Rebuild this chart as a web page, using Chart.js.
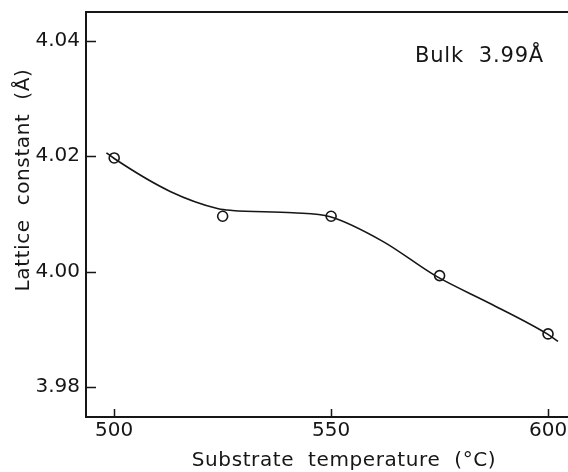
<!DOCTYPE html>
<html>
<head>
<meta charset="utf-8">
<script src="https://cdn.jsdelivr.net/npm/chart.js@4/dist/chart.umd.min.js"></script>
<style>
  html, body { margin: 0; padding: 0; background: #fff; }
  #wrap { width: 568px; height: 472px; }
</style>
</head>
<body>
<div id="wrap"><canvas id="chart" width="568" height="472"></canvas></div>
<script>
'use strict';

/* ── DATA ─────────────────────────── */
const temps   = [500, 525, 550, 575, 600];                 // substrate temperature (°C)
const lattice = [4.0197, 4.0096, 4.0096, 3.9993, 3.9892];  // lattice constant (Å)

// hand-drawn guide curve
const curveT = [498.2, 500, 512.9, 524, 527.2, 541.2, 549.8, 562, 574, 587.1, 599.8, 602.3];
const curveA = [4.0206, 4.0196, 4.0139, 4.0109, 4.0106, 4.0102, 4.0095, 4.0052, 3.9993, 3.9943, 3.9892, 3.9879];

const xTicks = [500, 550, 600];
const yTicks = [3.98, 4.00, 4.02, 4.04];

const xTitle = 'Substrate  temperature  (°C)';
const yTitle = 'Lattice  constant  (Å)';
const note   = 'Bulk  3.99Å';

/* ── STYLE ─────────────────────────── */
const ink  = '#161616';
const font = 'DejaVu Sans';

// frame top edge, inward tick marks, axis titles, bulk note
const extras = {
  id: 'extras',
  afterDraw(chart) {
    const { ctx, chartArea: a, scales: { x, y } } = chart;
    ctx.save();
    ctx.strokeStyle = ink;
    ctx.lineWidth = 2;
    ctx.beginPath();
    ctx.moveTo(a.left, a.top);
    ctx.lineTo(a.right, a.top);
    ctx.stroke();

    // inward ticks
    ctx.lineWidth = 1.5;
    ctx.beginPath();
    x.ticks.forEach(t => {
      const px = Math.round(x.getPixelForValue(t.value)) + 0.5;
      ctx.moveTo(px, a.bottom);
      ctx.lineTo(px, a.bottom - 8);
    });
    y.ticks.forEach(t => {
      const py = Math.round(y.getPixelForValue(t.value)) + 0.5;
      ctx.moveTo(a.left, py);
      ctx.lineTo(a.left + 10, py);
    });
    ctx.stroke();

    ctx.fillStyle = ink;
    ctx.textAlign = 'center';
    ctx.textBaseline = 'middle';
    ctx.letterSpacing = '0.6px';
    ctx.font = `20px "${font}"`;
    ctx.fillText(xTitle, 344, 461);

    ctx.save();
    ctx.translate(24, 180);
    ctx.rotate(-Math.PI / 2);
    ctx.fillText(yTitle, 0, 0);
    ctx.restore();

    ctx.letterSpacing = '0.8px';
    ctx.font = `21px "${font}"`;
    ctx.textAlign = 'left';
    ctx.textBaseline = 'alphabetic';
    ctx.fillText(note, 415, 62);
    ctx.restore();
  },
};

new Chart(document.getElementById('chart'), {
  type: 'line',
  data: {
    datasets: [
      {
        label: 'curve',
        data: curveT.map((t, i) => ({ x: t, y: curveA[i] })),
        borderColor: ink,
        borderWidth: 1.6,
        pointRadius: 0,
        cubicInterpolationMode: 'monotone',
        fill: false,
      },
      {
        label: 'measured',
        data: temps.map((t, i) => ({ x: t, y: lattice[i] })),
        showLine: false,
        pointRadius: 5,
        pointBorderWidth: 1.6,
        pointBorderColor: ink,
        pointBackgroundColor: '#fff',
      },
    ],
  },
  options: {
    responsive: false,
    animation: false,
    layout: { autoPadding: false, padding: { top: 12, right: 0, left: 0, bottom: 0 } },
    plugins: { legend: { display: false }, tooltip: { enabled: false } },
    scales: {
      x: {
        type: 'linear',
        min: 493.5,
        max: 604.6,
        afterBuildTicks: s => { s.ticks = xTicks.map(v => ({ value: v })); },
        afterFit: s => { s.height = 55; s.paddingLeft = 0; s.paddingRight = 0; },
        grid: { drawOnChartArea: false, drawTicks: false },
        border: { color: ink, width: 2 },
        ticks: { color: ink, padding: 2, maxRotation: 0, font: { family: font, size: 20 } },
      },
      y: {
        min: 3.9748,
        max: 4.045,
        afterBuildTicks: s => { s.ticks = yTicks.map(v => ({ value: v })); },
        afterFit: s => { s.width = 86; s.paddingTop = 0; s.paddingBottom = 0; },
        grid: { drawOnChartArea: false, drawTicks: false },
        border: { color: ink, width: 2 },
        ticks: { color: ink, padding: 6, font: { family: font, size: 20 }, callback: v => v.toFixed(2) },
      },
    },
  },
  plugins: [extras],
});
</script>
</body>
</html>
